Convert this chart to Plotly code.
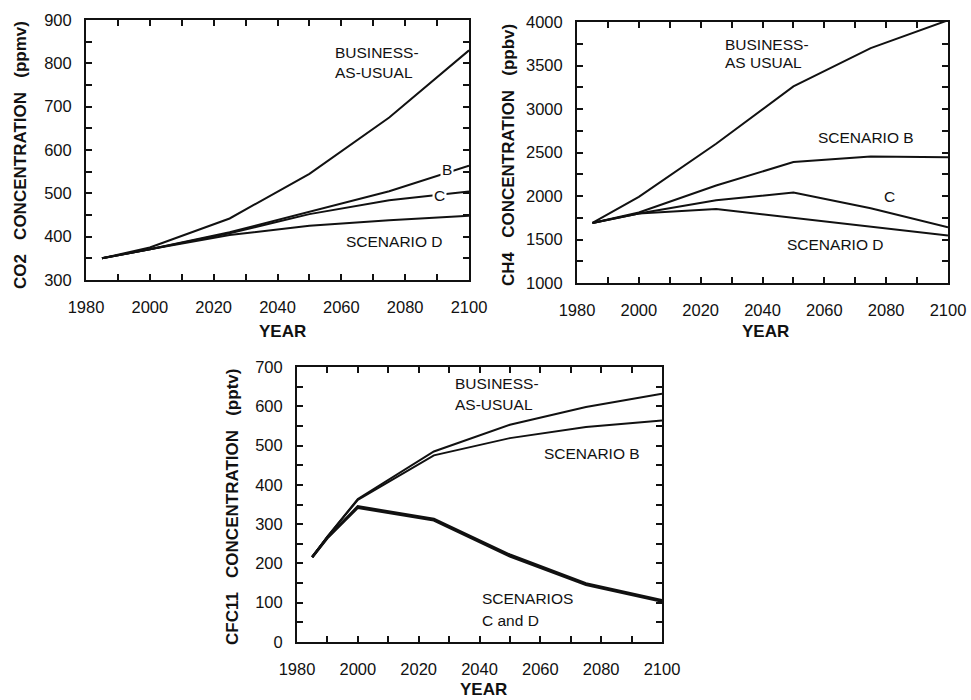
import plotly.graph_objects as go

# ---------------- data ----------------
years = [1985, 2000, 2025, 2050, 2075, 2100]

co2_bau = [350, 375, 442, 545, 675, 830]
co2_b = [350, 371, 410, 458, 505, 564]
co2_c = [350, 371, 408, 452, 484, 504]
co2_d = [350, 371, 404, 425, 438, 448]

ch4_bau = [1690, 1990, 2600, 3260, 3700, 4020]
ch4_b = [1690, 1810, 2120, 2390, 2455, 2445]
ch4_c = [1690, 1800, 1950, 2040, 1860, 1640]
ch4_d = [1690, 1800, 1850, 1750, 1645, 1545]

cfc_years = [1985, 1990, 2000, 2025, 2050, 2075, 2100]
cfc_bau = [216, 268, 364, 485, 553, 598, 632]
cfc_b = [216, 268, 362, 475, 519, 547, 564]
cfc_c = [216, 266, 345, 313, 222, 149, 106]
cfc_d = [216, 265, 342, 310, 218, 146, 103]

x_ticks = [1980, 2000, 2020, 2040, 2060, 2080, 2100]
co2_ticks = [300, 400, 500, 600, 700, 800, 900]
ch4_ticks = [1000, 1500, 2000, 2500, 3000, 3500, 4000]
cfc_ticks = [0, 100, 200, 300, 400, 500, 600, 700]

FONT = "Liberation Sans, Arial, sans-serif"
INK = "#111111"
SP = "\u00a0" * 3

fig = go.Figure()

def add_line(x, y, xa, ya, width=2.0):
    fig.add_trace(go.Scatter(x=x, y=y, mode="lines", xaxis=xa, yaxis=ya,
                             line=dict(color=INK, width=width), showlegend=False,
                             hoverinfo="skip"))

for s in (co2_bau, co2_b, co2_c, co2_d):
    add_line(years, s, "x", "y")
for s in (ch4_bau, ch4_b, ch4_c, ch4_d):
    add_line(years, s, "x2", "y2")
add_line(cfc_years, cfc_bau, "x3", "y3")
add_line(cfc_years, cfc_b, "x3", "y3")
add_line(cfc_years, cfc_c, "x3", "y3", width=2.6)
add_line(cfc_years, cfc_d, "x3", "y3", width=2.6)

def tick_set(labels):
    """Major labelled ticks plus an unlabelled tick half way between each pair."""
    vals, text = [], []
    for i, v in enumerate(labels):
        vals.append(v)
        text.append(str(v))
        if i + 1 < len(labels):
            vals.append((v + labels[i + 1]) / 2)
            text.append("")
    return vals, text

def xaxis(domain, anchor):
    tv, tt = tick_set(x_ticks)
    return dict(domain=domain, anchor=anchor, range=[1980, 2100], automargin=False,
                tickmode="array", tickvals=tv, ticktext=tt,
                ticks="inside", ticklen=6, tickwidth=1.6,
                tickcolor=INK, showline=True, linecolor=INK, linewidth=2,
                mirror="ticks", showgrid=False, zeroline=False,
                tickfont=dict(family=FONT, size=16.5, color=INK),
                ticklabelstandoff=11)

def yaxis(domain, anchor, rng, labels):
    tv, tt = tick_set(labels)
    return dict(domain=domain, anchor=anchor, range=rng, automargin=False,
                tickmode="array", tickvals=tv, ticktext=tt,
                ticks="inside", ticklen=6, tickwidth=1.6, tickcolor=INK,
                showline=True, linecolor=INK, linewidth=2, mirror="ticks",
                showgrid=False, zeroline=False,
                tickfont=dict(family=FONT, size=16.5, color=INK),
                ticklabelstandoff=9)

W, H = 971, 700
def px(xp):
    return xp / W
def py(yp):
    return 1 - yp / H

fig.update_layout(
    template="none",
    width=W, height=H,
    margin=dict(l=0, r=0, t=0, b=0, pad=0),
    paper_bgcolor="white", plot_bgcolor="white",
    showlegend=False,
    xaxis=xaxis([px(86), px(469)], "y"),
    yaxis=yaxis([py(280), py(20)], "x", [300, 900], co2_ticks),
    xaxis2=xaxis([px(577), px(948)], "y2"),
    yaxis2=yaxis([py(283), py(22)], "x2", [1000, 4000], ch4_ticks),
    xaxis3=xaxis([px(297), px(662)], "y3"),
    yaxis3=yaxis([py(642), py(367)], "x3", [0, 700], cfc_ticks),
)

ann = []
def label(text, x, y, xr, yr, xanchor="left", bg=None):
    d = dict(text=text, x=x, y=y, xref=xr, yref=yr, showarrow=False,
             xanchor=xanchor, yanchor="middle", align="left",
             font=dict(family=FONT, size=15.5, color=INK))
    if bg:
        d.update(bgcolor=bg, borderpad=1)
    ann.append(d)

# CO2 panel labels
label("BUSINESS-", 2057.4, 826, "x", "y")
label("AS-USUAL", 2057.4, 780, "x", "y")
label("B", 2093.2, 556, "x", "y", xanchor="center", bg="white")
label("C", 2090.7, 496, "x", "y", xanchor="center", bg="white")
label("SCENARIO D", 2076.6, 390, "x", "y", xanchor="center")

# CH4 panel labels
label("BUSINESS-", 2027.2, 3736, "x2", "y2")
label("AS USUAL", 2027.2, 3529, "x2", "y2")
label("SCENARIO B", 2073.5, 2678, "x2", "y2", xanchor="center")
label("C", 2081, 1989, "x2", "y2", xanchor="center")
label("SCENARIO D", 2063.5, 1437, "x2", "y2", xanchor="center")

# CFC11 panel labels
label("BUSINESS-", 2031.3, 659, "x3", "y3")
label("AS-USUAL", 2031.3, 605, "x3", "y3")
label("SCENARIO B", 2077, 481, "x3", "y3", xanchor="center")
label("SCENARIOS", 2040.2, 112, "x3", "y3")
label("C and D", 2040.2, 56, "x3", "y3")

def title(text, xp, yp, angle=0):
    ann.append(dict(text=text, x=px(xp), y=py(yp), xref="paper", yref="paper",
                    showarrow=False, textangle=angle, xanchor="center", yanchor="middle",
                    font=dict(family=FONT, size=17, color=INK, weight="bold")))

title("CO2" + SP + "CONCENTRATION" + SP + "(ppmv)", 20, 155, -90)
title("CH4" + SP + "CONCENTRATION" + SP + "(ppbv)", 508, 155, -90)
title("CFC11" + SP + "CONCENTRATION" + SP + "(pptv)", 232, 507, -90)
title("YEAR", 282, 331)
title("YEAR", 765, 331)
title("YEAR", 483, 689)

fig.update_layout(annotations=ann)
fig.write_html("out.html")
